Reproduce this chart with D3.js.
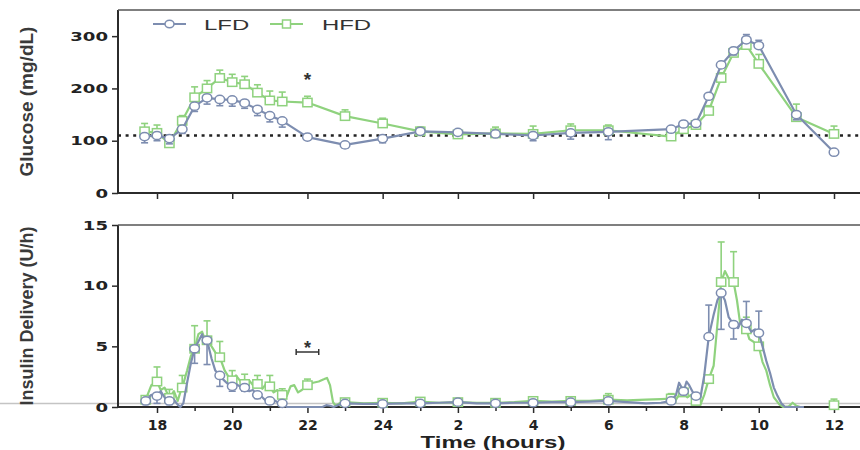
<!DOCTYPE html>
<html>
<head>
<meta charset="utf-8">
<script src="https://cdn.jsdelivr.net/npm/d3@7"></script>
<style>
  body { margin: 0; background: #fff; }
  svg { display: block; }
</style>
</head>
<body>
<div id="chart"></div>
<script>
// ---- data ----
var hourTicks = [18, 20, 22, 24, 26, 28, 30, 32, 34, 36];
var hourMinor = [19, 21, 23, 25, 27, 29, 31, 33, 35];
var glucoseTicks = [0, 100, 200, 300];
var insulinTicks = [0, 5, 10, 15];
var glucoseBaseline = 110;

var glucoseTime = [17.67, 18, 18.33, 18.67, 19, 19.33, 19.67, 20, 20.33, 20.67, 21, 21.33,
  22, 23, 24, 25, 26, 27, 28, 29, 30, 31.67, 32, 32.33, 32.67, 33, 33.33, 33.67, 34, 35, 36];
var glucoseLfd = [108, 110, 104, 122, 166, 182, 179, 178, 172, 160, 148, 138,
  107, 92, 104, 118, 116, 113, 110, 115, 117, 122, 132, 133, 185, 245, 272, 293, 282, 150, 78];
var glucoseLfdErr = [-12, -10, -10, -8, -10, -12, -12, -12, -10, -12, -12, -12,
  -6, -6, -8, -5, -5, -5, -10, -12, -15, -5, -5, -5, -5, -5, -8, 10, 10, -10, -6];
var glucoseHfd = [118, 115, 95, 138, 183, 200, 220, 212, 208, 192, 177, 175,
  173, 147, 133, 118, 112, 114, 113, 120, 120, 108, 122, 130, 157, 220, 268, 283, 247, 145, 113];
var glucoseHfdErr = [15, 15, 12, 10, 20, 15, 15, 15, 15, 15, 18, 18,
  12, 12, 10, 8, 8, 12, 15, 12, 10, 8, 10, 8, 10, 10, 10, 12, 18, 25, 15];

// insulin traces [hour, U/h]
var insulinLfdTrace = [[17.7,0.5],[17.85,1.0],[18,0.9],[18.1,1.3],[18.2,0.8],[18.33,0.5],[18.45,0.6],
  [18.55,0.2],[18.62,0],[18.7,0.3],[18.8,2.0],[18.9,3.6],[19,4.8],[19.1,5.4],[19.2,6.0],[19.27,5.2],
  [19.33,5.5],[19.45,4.0],[19.55,3.0],[19.67,2.6],[19.75,2.3],[19.85,2.0],[20,1.7],[20.1,1.9],[20.2,1.7],
  [20.33,1.6],[20.45,1.3],[20.55,1.4],[20.67,1.0],[20.8,0.8],[20.9,0.5],[21,0.5],[21.1,0.6],[21.2,0.4],
  [21.33,0.3],[21.45,0],[22.4,0],[22.5,0.15],[22.6,0.1],[22.7,0],[22.85,0.2],[23,0.3],[23.5,0.25],
  [24,0.25],[24.5,0.3],[25,0.3],[25.5,0.35],[26,0.4],[26.5,0.3],[27,0.3],[27.5,0.35],[28,0.35],
  [28.5,0.4],[29,0.4],[29.5,0.45],[30,0.5],[30.5,0.4],[31,0.3],[31.4,0.35],[31.67,0.5],[31.8,1.0],
  [31.88,2.0],[31.95,1.6],[32,1.3],[32.08,2.1],[32.15,1.8],[32.25,1.2],[32.33,0.9],[32.45,0.8],
  [32.55,2.6],[32.67,5.8],[32.8,7.6],[32.9,8.8],[33,9.4],[33.1,8.8],[33.2,7.4],[33.33,6.8],[33.45,6.5],
  [33.55,7.2],[33.67,6.9],[33.8,6.2],[33.9,6.4],[34,6.1],[34.1,5.0],[34.2,3.8],[34.3,2.8],[34.4,1.6],
  [34.5,0.9],[34.6,0.3],[34.7,0],[35.2,0]];
var insulinHfdTrace = [[17.7,0.6],[17.85,1.8],[18,2.1],[18.1,1.4],[18.2,1.6],[18.33,0.75],[18.45,1.3],
  [18.55,0.5],[18.62,1.2],[18.67,1.6],[18.8,3.0],[18.9,4.2],[19,4.8],[19.1,6.0],[19.2,6.2],[19.27,5.6],
  [19.33,5.5],[19.45,5.0],[19.55,4.5],[19.67,4.1],[19.8,3.0],[19.9,2.5],[20,2.2],[20.1,2.6],[20.2,2.2],
  [20.33,1.9],[20.45,2.2],[20.55,1.8],[20.67,1.9],[20.8,1.5],[20.9,1.9],[21,1.7],[21.1,1.2],[21.2,1.4],
  [21.33,1.0],[21.45,0.9],[21.55,1.7],[21.65,1.8],[21.75,1.2],[21.85,1.4],[22,1.8],[22.15,2.0],
  [22.3,2.1],[22.45,2.3],[22.52,2.4],[22.6,1.8],[22.68,0.4],[22.75,0.1],[22.85,0.3],[23,0.4],
  [23.5,0.3],[24,0.35],[24.5,0.3],[25,0.45],[25.5,0.35],[26,0.4],[26.5,0.35],[27,0.35],[27.5,0.4],
  [28,0.5],[28.5,0.45],[29,0.5],[29.5,0.5],[30,0.6],[30.5,0.55],[31,0.6],[31.4,0.65],[31.67,0.7],
  [31.8,0.6],[31.9,1.1],[32,1.2],[32.1,0.8],[32.2,1.0],[32.33,0.5],[32.45,0.2],[32.55,1.0],[32.67,2.3],
  [32.8,3.4],[32.92,7.5],[33,10.3],[33.1,11.2],[33.2,10.6],[33.33,10.3],[33.42,8.8],[33.5,7.0],
  [33.6,6.6],[33.67,6.4],[33.75,5.6],[33.85,5.4],[34,5.0],[34.1,3.7],[34.2,3.0],[34.3,1.8],[34.4,0.8],
  [34.55,0.2],[34.65,0],[34.8,0.05],[34.9,0.35],[35,0.1],[35.1,0]];

// insulin markers with error bars (signed: negative = drawn downward)
var insulinLfdTime = [17.7, 18, 18.33, 19, 19.33, 19.67, 20, 20.33, 20.67, 21, 21.33,
  23, 24, 25, 26, 27, 28, 29, 30, 31.67, 32, 32.33, 32.67, 33, 33.33, 33.67, 34];
var insulinLfd = [0.5, 0.9, 0.5, 4.8, 5.5, 2.6, 1.7, 1.6, 1.0, 0.5, 0.3,
  0.3, 0.25, 0.3, 0.4, 0.3, 0.35, 0.4, 0.5, 0.5, 1.3, 0.9, 5.8, 9.4, 6.8, 6.9, 6.1];
var insulinLfdErr = [-0.3, -0.6, -0.3, -1.2, -2.0, -0.9, -0.4, -0.3, -0.3, -0.2, -0.1,
  -0.1, -0.1, -0.1, -0.1, -0.1, -0.1, -0.1, -0.1, -0.1, -0.3, -0.2, 2.6, -3.0, -1.2, 1.8, 1.8];
var insulinHfdTime = [17.7, 18, 18.33, 18.67, 19, 19.33, 19.67, 20, 20.33, 20.67, 21, 21.33, 22,
  23, 24, 25, 26, 27, 28, 29, 30, 31.67, 32, 32.33, 32.67, 33, 33.33, 33.67, 34, 36];
var insulinHfd = [0.6, 2.1, 0.75, 1.6, 4.8, 5.5, 4.1, 2.2, 1.9, 1.9, 1.7, 1.0, 1.8,
  0.4, 0.35, 0.45, 0.4, 0.35, 0.5, 0.5, 0.6, 0.7, 1.2, 0.5, 2.3, 10.3, 10.3, 6.4, 5.0, 0.15];
var insulinHfdErr = [0.3, 1.2, 0.7, 1.0, 1.9, 1.6, 1.3, 0.8, 0.8, 0.7, 0.9, 0.5, 0.5,
  0.1, 0.1, 0.1, 0.1, 0.1, 0.3, 0.2, 0.5, 0.4, 0.4, 0.2, 0.3, 3.3, 2.5, 1.0, 0.9, 0.5];

var lfdColor = "#7d8db0",
    hfdColor = "#8fd27e",
    axisColor = "#2b2b2b";

var width = 860, height = 450;
var svg = d3.select("#chart").append("svg")
  .attr("width", width).attr("height", height);

var x = d3.scaleLinear().domain([18, 36]).range([157, 834]);
var yGlu = d3.scaleLinear().domain([0, 350]).range([193, 10]);
var yIns = d3.scaleLinear().domain([0, 15]).range([407, 225]);
var left = 118, right = 860;

// stretch text horizontally like the scanned figure
function stretch(sel, sx) {
  sel.each(function() {
    var t = d3.select(this);
    var tx = +t.attr("x") || 0, ty = +t.attr("y") || 0;
    t.attr("transform", "translate(" + tx + "," + ty + ") scale(" + sx + ",1)")
     .attr("x", 0).attr("y", 0);
  });
}

function hourLabel(h) { return h > 24 ? h - 24 : h; }

// faint scan line just above the lower axis
svg.append("line")
  .attr("x1", 0).attr("x2", width)
  .attr("y1", yIns(0) - 3.5).attr("y2", yIns(0) - 3.5)
  .style("stroke", "#c4c4c4").style("stroke-width", 1.5);

function frame(yScale, ticks) {
  var g = svg.append("g");
  var yAx = g.append("g").attr("transform", "translate(" + left + ",0)")
    .call(d3.axisLeft(yScale).tickValues(ticks).tickSize(6).tickPadding(0));
  yAx.select(".domain").remove();
  yAx.selectAll("line").style("stroke", axisColor).style("stroke-width", 1.5);
  yAx.selectAll("text")
    .style("font-family", "DejaVu Sans").style("font-weight", "bold")
    .style("font-size", "12.5px").style("fill", "#222")
    .attr("transform", "translate(-10,0) scale(1.45,1)").attr("x", 0);

  // box lines: left, bottom, top
  var y0 = yScale.range()[0], y1 = yScale.range()[1];
  g.append("line").attr("x1", left).attr("x2", left).attr("y1", y1).attr("y2", y0 + 1)
    .style("stroke", axisColor).style("stroke-width", 2);
  g.append("line").attr("x1", left).attr("x2", right).attr("y1", y0).attr("y2", y0)
    .style("stroke", axisColor).style("stroke-width", 2);
  g.append("line").attr("x1", left).attr("x2", right).attr("y1", y1).attr("y2", y1)
    .style("stroke", "#555").style("stroke-width", 1.5);
  return g;
}

// ---------- top panel: glucose ----------
frame(yGlu, glucoseTicks);
var xTop = svg.append("g").attr("transform", "translate(0," + yGlu(0) + ")")
  .call(d3.axisBottom(x).tickValues(hourTicks).tickSize(6).tickFormat(""));
xTop.select(".domain").remove();
xTop.selectAll("line").style("stroke", axisColor).style("stroke-width", 1.5);

svg.append("line")
  .attr("x1", left).attr("x2", right)
  .attr("y1", yGlu(glucoseBaseline)).attr("y2", yGlu(glucoseBaseline))
  .style("stroke", "#222").style("stroke-width", 2.5)
  .style("stroke-dasharray", "3,4.6");

function drawSeries(yScale, times, vals, errs, color, shape, trace) {
  var g = svg.append("g");
  var pts = times.map(function(t, i) { return {t: t, v: vals[i], e: errs[i]}; });
  var line = d3.line().x(function(d) { return x(d[0]); }).y(function(d) { return yScale(d[1]); });
  g.append("path")
    .datum(trace || pts.map(function(d) { return [d.t, d.v]; }))
    .attr("d", line)
    .style("fill", "none").style("stroke", color).style("stroke-width", 2.2)
    .style("stroke-linejoin", "round");

  var eb = g.selectAll(".eb").data(pts).enter().append("g");
  eb.append("line")
    .attr("x1", function(d) { return x(d.t); }).attr("x2", function(d) { return x(d.t); })
    .attr("y1", function(d) { return yScale(d.v); })
    .attr("y2", function(d) { return yScale(d.v + d.e); })
    .style("stroke", color).style("stroke-width", 1.6);
  eb.append("line")
    .attr("x1", function(d) { return x(d.t) - 3.5; }).attr("x2", function(d) { return x(d.t) + 3.5; })
    .attr("y1", function(d) { return yScale(d.v + d.e); })
    .attr("y2", function(d) { return yScale(d.v + d.e); })
    .style("stroke", color).style("stroke-width", 1.6);

  if (shape === "circle") {
    g.selectAll(".m").data(pts).enter().append("ellipse")
      .attr("cx", function(d) { return x(d.t); })
      .attr("cy", function(d) { return yScale(d.v); })
      .attr("rx", 4.8).attr("ry", 4.1)
      .style("fill", "#fff").style("stroke", color).style("stroke-width", 1.5);
  } else {
    g.selectAll(".m").data(pts).enter().append("rect")
      .attr("x", function(d) { return x(d.t) - 4.6; })
      .attr("y", function(d) { return yScale(d.v) - 4.2; })
      .attr("width", 9.2).attr("height", 8.4)
      .style("fill", "#fff").style("stroke", color).style("stroke-width", 1.5);
  }
}

drawSeries(yGlu, glucoseTime, glucoseHfd, glucoseHfdErr, hfdColor, "square");
drawSeries(yGlu, glucoseTime, glucoseLfd, glucoseLfdErr, lfdColor, "circle");

// legend
var legend = [
  {name: "LFD", color: lfdColor, shape: "circle", x0: 153, x1: 186, tx: 204},
  {name: "HFD", color: hfdColor, shape: "square", x0: 270, x1: 303, tx: 322}
];
legend.forEach(function(l) {
  var cx = (l.x0 + l.x1) / 2, cy = 24;
  svg.append("line").attr("x1", l.x0).attr("x2", l.x1).attr("y1", cy).attr("y2", cy)
    .style("stroke", l.color).style("stroke-width", 1.8);
  if (l.shape === "circle") {
    svg.append("ellipse").attr("cx", cx).attr("cy", cy).attr("rx", 4.5).attr("ry", 3.8)
      .style("fill", "#fff").style("stroke", l.color).style("stroke-width", 1.5);
  } else {
    svg.append("rect").attr("x", cx - 4).attr("y", cy - 4).attr("width", 8).attr("height", 8)
      .style("fill", "#fff").style("stroke", l.color).style("stroke-width", 1.5);
  }
  svg.append("text").attr("x", l.tx).attr("y", 29.5)
    .text(l.name)
    .style("font-family", "Liberation Sans, Arial, sans-serif")
    .style("font-size", "14.5px").style("fill", "#333")
    .call(stretch, 1.65);
});

svg.append("text").attr("x", x(22)).attr("y", 86).attr("text-anchor", "middle")
  .text("*").style("font-family", "Liberation Sans, Arial").style("font-size", "19px")
  .style("font-weight", "bold").style("fill", "#333");

svg.append("text")
  .attr("transform", "translate(33," + (yGlu(0) + yGlu(350)) / 2 + ") rotate(-90)")
  .attr("text-anchor", "middle")
  .text("Glucose (mg/dL)")
  .style("font-family", "Liberation Sans, Arial").style("font-weight", "bold")
  .style("font-size", "19px").style("fill", "#3a3a3a");

// ---------- bottom panel: insulin ----------
frame(yIns, insulinTicks);
var xBot = svg.append("g").attr("transform", "translate(0," + yIns(0) + ")")
  .call(d3.axisBottom(x).tickValues(hourTicks).tickSize(6).tickPadding(7).tickFormat(hourLabel));
xBot.select(".domain").remove();
xBot.selectAll("line").style("stroke", axisColor).style("stroke-width", 1.5);
xBot.selectAll("text")
  .style("font-family", "DejaVu Sans").style("font-weight", "bold")
  .style("font-size", "14px").style("fill", "#222");
var xMinor = svg.append("g").attr("transform", "translate(0," + yIns(0) + ")")
  .call(d3.axisBottom(x).tickValues(hourMinor).tickSize(4).tickFormat(""));
xMinor.select(".domain").remove();
xMinor.selectAll("line").style("stroke", axisColor).style("stroke-width", 1.5);

drawSeries(yIns, insulinHfdTime, insulinHfd, insulinHfdErr, hfdColor, "square", insulinHfdTrace);
drawSeries(yIns, insulinLfdTime, insulinLfd, insulinLfdErr, lfdColor, "circle", insulinLfdTrace);

// significance bracket
svg.append("text").attr("x", x(22)).attr("y", 354).attr("text-anchor", "middle")
  .text("*").style("font-family", "Liberation Sans, Arial").style("font-size", "18px")
  .style("font-weight", "bold").style("fill", "#333");
svg.append("line").attr("x1", x(21.7)).attr("x2", x(22.3)).attr("y1", 352).attr("y2", 352)
  .style("stroke", "#333").style("stroke-width", 1.5);
[21.7, 22.3].forEach(function(h) {
  svg.append("line").attr("x1", x(h)).attr("x2", x(h)).attr("y1", 349).attr("y2", 355)
    .style("stroke", "#333").style("stroke-width", 1.5);
});

svg.append("text")
  .attr("transform", "translate(33," + (yIns(0) + yIns(15)) / 2 + ") rotate(-90)")
  .attr("text-anchor", "middle")
  .text("Insulin Delivery (U/h)")
  .style("font-family", "Liberation Sans, Arial").style("font-weight", "bold")
  .style("font-size", "18px").style("fill", "#3a3a3a");

svg.append("text").attr("x", 493).attr("y", 448).attr("text-anchor", "middle")
  .text("Time (hours)")
  .style("font-family", "Liberation Sans, Arial").style("font-weight", "bold")
  .style("font-size", "16px").style("fill", "#222")
  .call(stretch, 1.5);
</script>
</body>
</html>
